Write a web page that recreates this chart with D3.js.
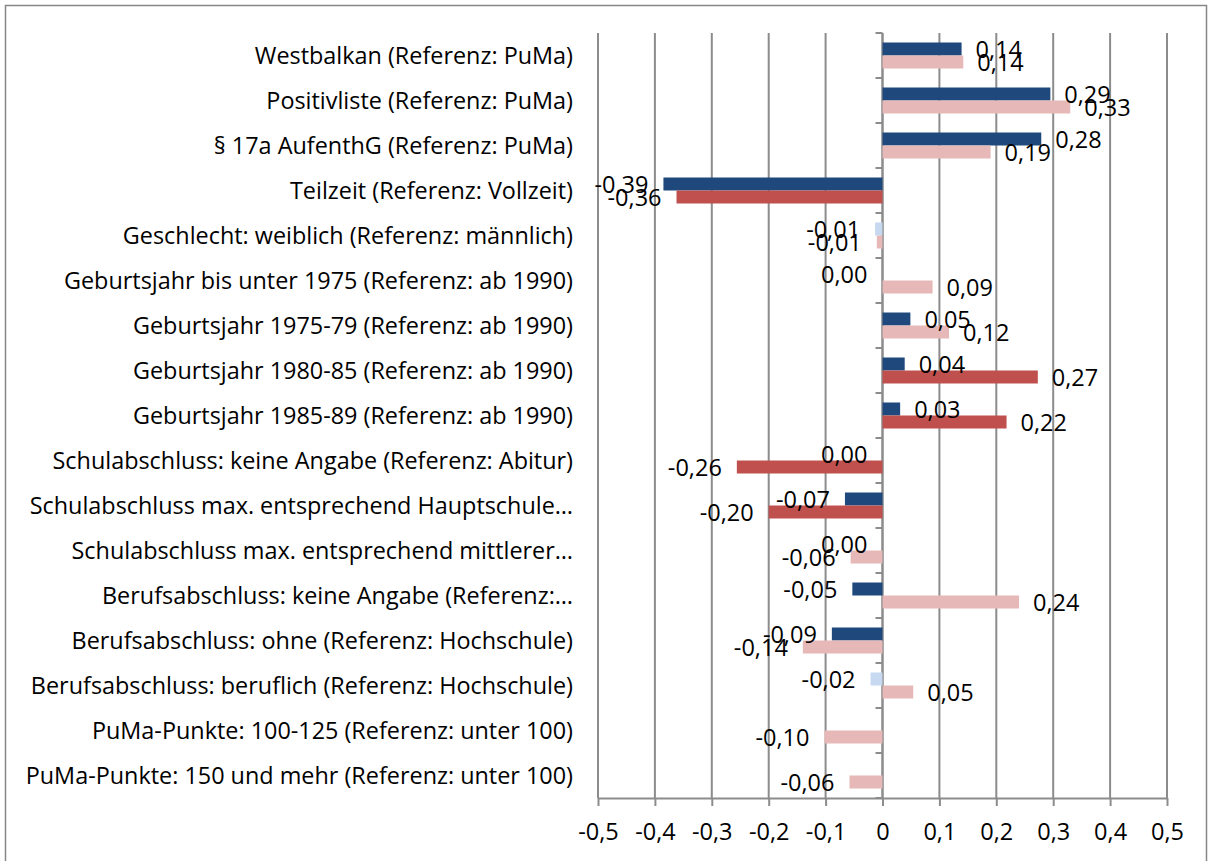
<!DOCTYPE html>
<html>
<head>
<meta charset="utf-8">
<script src="https://cdn.jsdelivr.net/npm/d3@7"></script>
<style>
  body { margin: 0; background: #fff; }
  svg text { font-family: "Open Sans", "Noto Sans", sans-serif; fill: #000; }
</style>
</head>
<body>
<div class="chart"></div>
<script>
// categories, top to bottom
var categories = [
  "Westbalkan (Referenz: PuMa)",
  "Positivliste (Referenz: PuMa)",
  "§ 17a AufenthG (Referenz: PuMa)",
  "Teilzeit (Referenz: Vollzeit)",
  "Geschlecht: weiblich (Referenz: männlich)",
  "Geburtsjahr bis unter 1975 (Referenz: ab 1990)",
  "Geburtsjahr 1975-79 (Referenz: ab 1990)",
  "Geburtsjahr 1980-85 (Referenz: ab 1990)",
  "Geburtsjahr 1985-89 (Referenz: ab 1990)",
  "Schulabschluss: keine Angabe (Referenz: Abitur)",
  "Schulabschluss max. entsprechend Hauptschule…",
  "Schulabschluss max. entsprechend mittlerer…",
  "Berufsabschluss: keine Angabe (Referenz:…",
  "Berufsabschluss: ohne (Referenz: Hochschule)",
  "Berufsabschluss: beruflich (Referenz: Hochschule)",
  "PuMa-Punkte: 100-125 (Referenz: unter 100)",
  "PuMa-Punkte: 150 und mehr (Referenz: unter 100)"
];

// first series (blue) and second series (red); null = no value
var series1 = [0.139, 0.295, 0.279, -0.385, -0.013, 0.00, 0.049, 0.039, 0.031, 0.00, -0.066, 0.00, -0.053, -0.089, -0.021, null, null];
var series2 = [0.142, 0.33, 0.19, -0.362, -0.01, 0.088, 0.117, 0.273, 0.218, -0.256, -0.2, -0.056, 0.24, -0.14, 0.054, -0.102, -0.058];

// significance flags (true = significant, drawn in the strong colour)
var sig1 = [true, true, true, true, false, true, true, true, true, true, true, false, true, true, false, false, false];
var sig2 = [false, false, false, true, false, false, false, true, true, true, true, false, false, false, false, false, false];

var xTicks = [-0.5, -0.4, -0.3, -0.2, -0.1, 0, 0.1, 0.2, 0.3, 0.4, 0.5];

var svgWidth = 1211;
var svgHeight = 861;
var margin = { top: 33, left: 598, right: 44, bottom: 63 };
var width = svgWidth - margin.left - margin.right;
var height = 765;

var svg = d3.select(".chart")
    .append("svg")
    .attr("width", svgWidth)
    .attr("height", svgHeight);

// chart border
svg.append("rect")
    .attr("x", 5.5).attr("y", 5.5)
    .attr("width", 1201).attr("height", 900)
    .attr("fill", "none")
    .attr("stroke", "#878787")
    .attr("stroke-width", 1.5);

var chart = svg.append("g")
    .attr("transform", "translate(" + margin.left + "," + margin.top + ")");

var x = d3.scaleLinear().domain([-0.5, 0.5]).range([0, width]);
var y = d3.scaleBand().domain(categories).range([0, height]);
var inner = d3.scaleBand().domain([0, 1]).range([9.5, y.bandwidth() - 9.5]);

// german number format with plain hyphen as minus
var de = d3.formatLocale({ decimal: ",", thousands: ".", grouping: [3], currency: ["", " €"], minus: "-" });
var decimal = de.format(".2f");
var tickFmt = function(v) { return v === 0 ? "0" : de.format(".1f")(v); };

// vertical gridlines
chart.append("g")
    .selectAll("line")
    .data(xTicks)
    .enter().append("line")
    .attr("x1", function(d) { return x(d); })
    .attr("x2", function(d) { return x(d); })
    .attr("y1", 0)
    .attr("y2", height)
    .attr("stroke", "#8c8c8c")
    .attr("stroke-width", 2);

// bottom axis
var bottomAxis = d3.axisBottom(x).tickValues(xTicks).tickFormat(tickFmt).tickSize(8).tickSizeOuter(0).tickPadding(17);
var xAxis = chart.append("g")
    .attr("transform", "translate(0," + height + ")")
    .call(bottomAxis);
xAxis.select(".domain").attr("stroke", "#8c8c8c").attr("stroke-width", 2);
xAxis.selectAll(".tick line").attr("stroke", "#8c8c8c").attr("stroke-width", 2);
xAxis.selectAll("text").style("font-size", "23.5px").attr("fill", "#000");

// category axis at zero, ticks between categories
var catAxis = chart.append("g")
    .attr("transform", "translate(" + x(0) + ",0)");
catAxis.append("line")
    .attr("y1", 0).attr("y2", height)
    .attr("stroke", "#8c8c8c").attr("stroke-width", 2);
catAxis.selectAll("line.tick")
    .data(d3.range(categories.length + 1))
    .enter().append("line")
    .attr("class", "tick")
    .attr("x1", -7).attr("x2", 0)
    .attr("y1", function(i) { return i * y.step(); })
    .attr("y2", function(i) { return i * y.step(); })
    .attr("stroke", "#8c8c8c").attr("stroke-width", 2);

// category labels
chart.append("g")
    .selectAll("text")
    .data(categories)
    .enter().append("text")
    .attr("x", -25)
    .attr("y", function(d) { return y(d) + y.bandwidth() / 2; })
    .attr("dy", "0.35em")
    .attr("text-anchor", "end")
    .style("font-size", "23.4px")
    .text(function(d) { return d; });

// bar data
var bars = [];
categories.forEach(function(c, i) {
  if (series1[i] !== null) bars.push({ cat: c, s: 0, v: series1[i], sig: sig1[i] });
  if (series2[i] !== null) bars.push({ cat: c, s: 1, v: series2[i], sig: sig2[i] });
});

var colors = [["#c6d9f1", "#1f497d"], ["#e6b9b8", "#c0504d"]];

chart.append("g")
    .selectAll("rect")
    .data(bars)
    .enter().append("rect")
    .attr("x", function(d) { return x(Math.min(0, d.v)); })
    .attr("y", function(d) { return y(d.cat) + inner(d.s); })
    .attr("width", function(d) { return Math.abs(x(d.v) - x(0)); })
    .attr("height", inner.bandwidth())
    .attr("fill", function(d) { return colors[d.s][d.sig ? 1 : 0]; });

// value labels
chart.append("g")
    .selectAll("text")
    .data(bars)
    .enter().append("text")
    .attr("x", function(d) { return d.v > 0 ? x(d.v) + 14 : x(d.v) - 15; })
    .attr("y", function(d) { return y(d.cat) + inner(d.s) + inner.bandwidth() / 2 + 1; })
    .attr("dy", "0.35em")
    .attr("text-anchor", function(d) { return d.v > 0 ? "start" : "end"; })
    .style("font-size", "23.5px")
    .text(function(d) { return decimal(d.v); });
</script>
</body>
</html>
